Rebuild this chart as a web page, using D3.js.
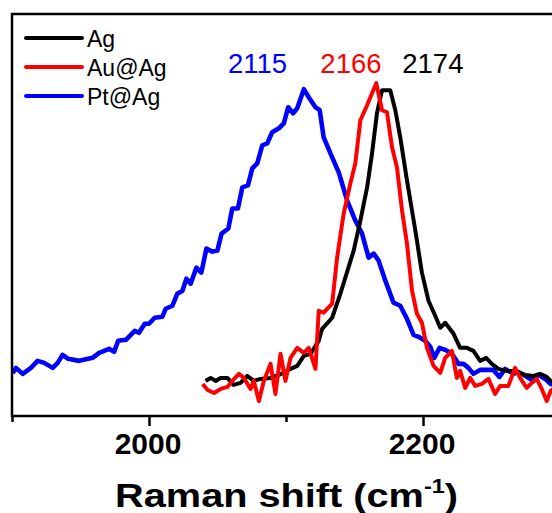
<!DOCTYPE html>
<html>
<head>
<meta charset="utf-8">
<script src="https://cdn.jsdelivr.net/npm/d3@7"></script>
<style>
  html, body { margin: 0; padding: 0; background: #fff; }
  svg { display: block; font-family: "Liberation Sans", Arial, sans-serif; }
</style>
</head>
<body>
<svg id="chart" width="552" height="513"></svg>
<script>
// Raman spectra (arbitrary intensity units) of Ag, Au@Ag and Pt@Ag
const seriesNames = ["Ag", "Au@Ag", "Pt@Ag"];
const seriesColors = ["#000000", "#ff0000", "#0000ff"];

const agShift = [2041.3, 2045.0, 2048.6, 2052.3, 2057.2, 2061.7, 2066.8, 2071.7, 2076.5, 2081.4, 2088.7, 2098.4, 2103.3, 2108.2, 2113.0, 2117.9, 2123.9, 2126.4, 2133.7, 2139.7, 2149.4, 2154.3, 2159.2, 2162.8, 2166.4, 2170.1, 2176.1, 2179.8, 2183.4, 2188.3, 2194.4, 2199.2, 2204.0, 2208.9, 2212.6, 2216.2, 2222.3, 2227.1, 2232.0, 2236.8, 2241.7, 2246.1, 2250.2, 2255.0, 2261.2, 2267.2, 2274.5, 2280.5, 2285.4, 2290.3, 2293.2, 2298.0];
const agIntensity = [35, 38, 35, 38, 38, 31, 33, 40, 35, 37, 38, 43, 47, 50, 60, 62, 75, 87, 98, 122, 165, 195, 228, 262, 302, 325, 325, 305, 278, 235, 185, 143, 115, 100, 88, 93, 82, 68, 68, 65, 55, 58, 52, 47, 45, 45, 41, 40, 42, 39, 35, 33];

const auagShift = [2039.2, 2042.8, 2047.4, 2052.3, 2057.2, 2060.8, 2065.6, 2069.3, 2074.1, 2076.5, 2080.2, 2083.8, 2088.7, 2092.3, 2096.0, 2099.6, 2103.3, 2108.2, 2113.0, 2116.6, 2121.5, 2123.9, 2127.5, 2133.7, 2137.3, 2142.1, 2147.0, 2150.6, 2154.3, 2159.2, 2162.8, 2165.9, 2170.1, 2173.7, 2177.4, 2181.0, 2184.7, 2188.3, 2192.0, 2195.6, 2199.2, 2202.9, 2207.7, 2212.6, 2216.2, 2221.1, 2224.7, 2227.1, 2230.8, 2234.4, 2238.1, 2243.0, 2247.8, 2252.6, 2256.3, 2262.3, 2267.2, 2270.9, 2275.7, 2279.4, 2283.0, 2286.7, 2290.3, 2293.2, 2298.0];
const auagIntensity = [32, 26, 23, 27, 29, 35, 42, 38, 27, 35, 15, 35, 52, 22, 62, 35, 58, 68, 63, 68, 47, 105, 103, 112, 158, 202, 232, 252, 295, 310, 322, 332, 305, 303, 268, 248, 205, 172, 125, 102, 93, 68, 50, 43, 58, 65, 38, 45, 28, 38, 30, 32, 37, 22, 30, 30, 48, 38, 28, 33, 37, 27, 15, 25, 30];

const ptagShift = [1900.5, 1902.9, 1907.8, 1913.8, 1918.7, 1923.5, 1929.7, 1933.3, 1936.9, 1941.0, 1949.0, 1958.8, 1963.6, 1970.9, 1974.5, 1977.5, 1983.1, 1989.6, 1992.7, 1996.9, 2000.0, 2004.2, 2009.8, 2012.2, 2017.1, 2020.7, 2024.4, 2027.3, 2030.4, 2034.6, 2038.2, 2041.9, 2046.2, 2049.9, 2053.0, 2057.9, 2060.8, 2064.9, 2068.1, 2072.2, 2075.4, 2079.0, 2082.7, 2086.3, 2089.9, 2094.8, 2098.4, 2101.6, 2105.2, 2108.2, 2113.0, 2116.6, 2121.5, 2124.6, 2127.5, 2133.7, 2138.5, 2144.6, 2150.6, 2155.5, 2160.3, 2164.0, 2167.6, 2172.5, 2178.5, 2183.4, 2188.3, 2193.1, 2196.8, 2201.6, 2205.3, 2208.2, 2212.1, 2216.2, 2221.1, 2225.9, 2229.6, 2233.2, 2236.8, 2241.7, 2246.6, 2251.4, 2255.8, 2259.9, 2266.0, 2269.6, 2274.5, 2279.4, 2284.2, 2289.1, 2293.2, 2298.0];
const ptagIntensity = [43, 48, 42, 48, 55, 53, 48, 53, 61, 57, 55, 58, 63, 67, 64, 75, 76, 85, 83, 92, 92, 98, 99, 107, 110, 122, 125, 137, 132, 148, 143, 167, 164, 165, 182, 187, 207, 207, 228, 230, 247, 252, 270, 272, 283, 287, 292, 308, 302, 307, 326, 318, 308, 305, 278, 258, 243, 215, 195, 182, 158, 162, 155, 135, 113, 110, 97, 81, 79, 75, 69, 58, 68, 66, 62, 52, 52, 48, 42, 46, 46, 46, 39, 47, 42, 44, 40, 36, 41, 37, 32, 30];

// Peak position annotations: label text, colour index, anchor position on the shift axis
const peakLabels = ["2115", "2166", "2174"];
const peakLabelColor = [2, 1, 0];
const peakLabelShift = [2079.2, 2147.4, 2207.2];

const xTicksMajor = [2000, 2200];
const xTicksMinor = [1900, 2100, 2300];
const xDomain = [1900, 2300];
const yDomain = [0, 400];

const svg = d3.select("#chart");
const plotLeft = 12, plotRight = 560, plotTop = 14, plotBottom = 416;
const seriesWidth = [4, 4, 4.6];

const x = d3.scaleLinear().domain(xDomain).range([plotLeft, plotRight]);
const y = d3.scaleLinear().domain(yDomain).range([plotBottom, plotTop + 1]);

svg.append("defs").append("clipPath").attr("id", "plotClip")
  .append("rect").attr("x", plotLeft).attr("y", plotTop)
  .attr("width", plotRight - plotLeft).attr("height", plotBottom - plotTop);

const series = [
  { shift: agShift, intensity: agIntensity },
  { shift: auagShift, intensity: auagIntensity },
  { shift: ptagShift, intensity: ptagIntensity }
];

const line = d3.line()
  .x(d => x(d[0]))
  .y(d => y(d[1]));

const plot = svg.append("g").attr("clip-path", "url(#plotClip)");
// blue first, then black, then red on top
[2, 0, 1].forEach(i => {
  const pts = series[i].shift.map((s, k) => [s, series[i].intensity[k]]);
  plot.append("path")
    .datum(pts)
    .attr("fill", "none")
    .attr("stroke", seriesColors[i])
    .attr("stroke-width", seriesWidth[i])
    .attr("stroke-linejoin", "round")
    .attr("d", line);
});

// frame
svg.append("rect")
  .attr("x", plotLeft).attr("y", plotTop)
  .attr("width", plotRight - plotLeft).attr("height", plotBottom - plotTop)
  .attr("fill", "none").attr("stroke", "#000").attr("stroke-width", 2.5);

// x axis: major ticks with labels, minor ticks without
const axisMajor = d3.axisBottom(x).tickValues(xTicksMajor).tickSize(10).tickFormat(d3.format("d"));
const gMaj = svg.append("g").attr("transform", `translate(0,${plotBottom})`).call(axisMajor);
gMaj.select(".domain").remove();
gMaj.selectAll(".tick line").attr("stroke", "#000").attr("stroke-width", 2.5);
gMaj.selectAll(".tick text")
  .attr("font-family", "'Liberation Sans', Arial, sans-serif")
  .attr("font-size", 30).attr("font-weight", "bold").attr("fill", "#000")
  .attr("x", -1.5).attr("y", 37.5).attr("dy", null);

const axisMinor = d3.axisBottom(x).tickValues(xTicksMinor).tickSize(6).tickFormat("");
const gMin = svg.append("g").attr("transform", `translate(0,${plotBottom})`).call(axisMinor);
gMin.select(".domain").remove();
gMin.selectAll(".tick line").attr("stroke", "#000").attr("stroke-width", 2.5);

// axis title, widened to span the plot's lower label area
const titleG = svg.append("g");
const title = titleG.append("text")
  .attr("x", 0).attr("y", 0)
  .attr("text-anchor", "middle")
  .attr("font-size", 34).attr("font-weight", "bold").attr("fill", "#000");
title.append("tspan").text("Raman shift (cm");
title.append("tspan").attr("font-size", 20).attr("dy", -14).text("-1");
title.append("tspan").attr("dy", 14).text(")");
const tb = title.node().getBBox();
const titleWidth = 343;
const sx = titleWidth / tb.width;
titleG.attr("transform", `translate(286.5,507) scale(${sx},1)`);

// legend
const legend = svg.append("g");
seriesNames.forEach((name, i) => {
  const ly = 38 + i * 29;
  legend.append("line")
    .attr("x1", 26).attr("x2", 82).attr("y1", ly).attr("y2", ly)
    .attr("stroke", seriesColors[i]).attr("stroke-width", 4).attr("stroke-linecap", "round");
  legend.append("text")
    .attr("x", 87).attr("y", ly + 8.5)
    .attr("font-size", 23).attr("fill", "#000")
    .text(name);
});

// peak labels
peakLabels.forEach((t, i) => {
  svg.append("text")
    .attr("x", x(peakLabelShift[i])).attr("y", 73)
    .attr("text-anchor", "middle")
    .attr("font-size", 27.5).attr("fill", seriesColors[peakLabelColor[i]])
    .text(t);
});
</script>
</body>
</html>
